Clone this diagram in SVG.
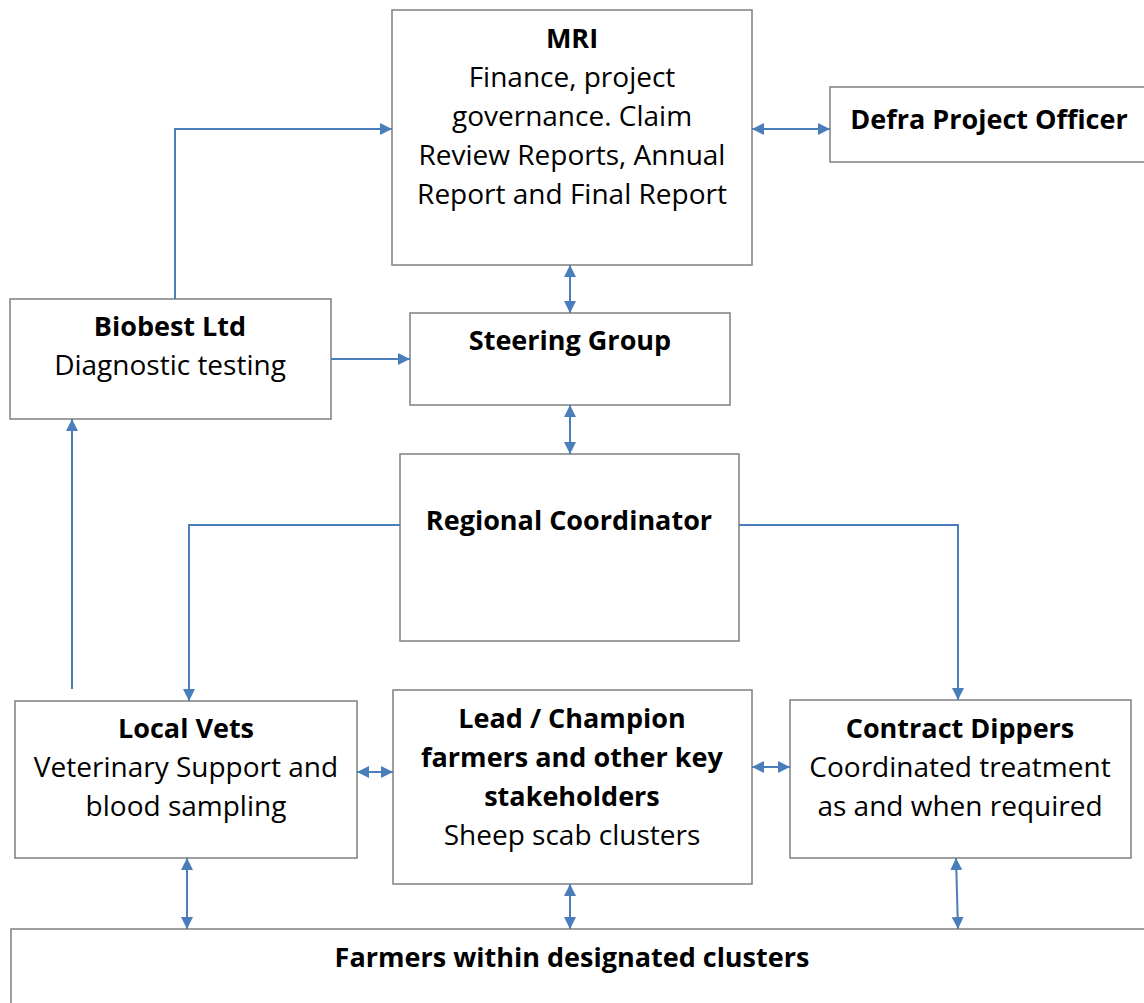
<svg xmlns="http://www.w3.org/2000/svg" width="1144" height="1003" viewBox="0 0 1144 1003">
<style>
.box{fill:#fff;stroke:#7f7f7f;stroke-width:1.5}
text{font-family:"Open Sans","Liberation Sans",Arial,sans-serif;font-size:28px;fill:#000;text-anchor:middle}
.b{font-weight:bold;font-size:27px}
.c{fill:none;stroke:#4a7ebb;stroke-width:2}
</style>
<defs>
<marker id="ah" viewBox="0 0 10 10" refX="10" refY="5" markerWidth="6" markerHeight="6" orient="auto-start-reverse" markerUnits="strokeWidth">
<path d="M0,0 L10,5 L0,10 z" fill="#4a7ebb"/>
</marker>
</defs>
<rect width="1144" height="1003" fill="#fff"/>
<g id="mri"><rect class="box" x="392" y="10" width="360" height="255"/>
<text class="b" x="572" y="48">MRI</text>
<text x="572" y="87">Finance, project</text>
<text x="572" y="126">governance. Claim</text>
<text x="572" y="165">Review Reports, Annual</text>
<text x="572" y="204">Report and Final Report</text></g>
<g id="defra"><rect class="box" x="830" y="87" width="320" height="75"/>
<text class="b" x="989" y="129">Defra Project Officer</text></g>
<g id="biobest"><rect class="box" x="10" y="299" width="321" height="120"/>
<text class="b" x="170" y="336">Biobest Ltd</text>
<text x="170" y="375">Diagnostic testing</text></g>
<g id="steering"><rect class="box" x="410" y="313" width="320" height="92"/>
<text class="b" x="570" y="350">Steering Group</text></g>
<g id="regional"><rect class="box" x="400" y="454" width="339" height="187"/>
<text class="b" x="569" y="530">Regional Coordinator</text></g>
<g id="localvets"><rect class="box" x="15" y="701" width="342" height="157"/>
<text class="b" x="186" y="738">Local Vets</text>
<text x="186" y="777">Veterinary Support and</text>
<text x="186" y="816">blood sampling</text></g>
<g id="lead"><rect class="box" x="393" y="690" width="359" height="194"/>
<text class="b" x="572" y="728">Lead / Champion</text>
<text class="b" x="572" y="767">farmers and other key</text>
<text class="b" x="572" y="806">stakeholders</text>
<text x="572" y="845">Sheep scab clusters</text></g>
<g id="dippers"><rect class="box" x="790" y="700" width="341" height="158"/>
<text class="b" x="960" y="738">Contract Dippers</text>
<text x="960" y="777">Coordinated treatment</text>
<text x="960" y="816">as and when required</text></g>
<g id="farmers"><rect class="box" x="11" y="929" width="1140" height="80"/>
<text class="b" x="572" y="967">Farmers within designated clusters</text></g>
<g id="connectors">
<path class="c" d="M175,299 V129 H392" marker-end="url(#ah)"/>
<path class="c" d="M752,129 H830" marker-start="url(#ah)" marker-end="url(#ah)"/>
<path class="c" d="M570,265 V313" marker-start="url(#ah)" marker-end="url(#ah)"/>
<path class="c" d="M331,359 H410" marker-end="url(#ah)"/>
<path class="c" d="M570,405 V454" marker-start="url(#ah)" marker-end="url(#ah)"/>
<path class="c" d="M400,525 H189 V701" marker-end="url(#ah)"/>
<path class="c" d="M739,525 H958 V700" marker-end="url(#ah)"/>
<path class="c" d="M72,689 V419" marker-end="url(#ah)"/>
<path class="c" d="M357,772 H393" marker-start="url(#ah)" marker-end="url(#ah)"/>
<path class="c" d="M752,767 H790" marker-start="url(#ah)" marker-end="url(#ah)"/>
<path class="c" d="M187,858 V929" marker-start="url(#ah)" marker-end="url(#ah)"/>
<path class="c" d="M570,884 V929" marker-start="url(#ah)" marker-end="url(#ah)"/>
<path class="c" d="M956,858 L958,929" marker-start="url(#ah)" marker-end="url(#ah)"/>
</g>
</svg>
